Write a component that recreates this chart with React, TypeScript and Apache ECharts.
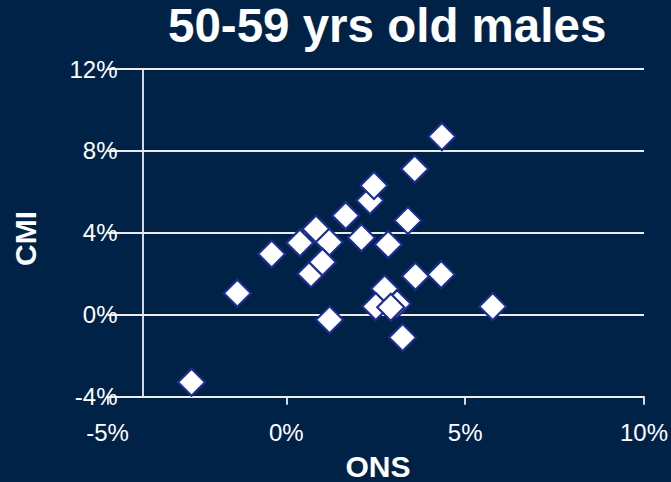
import React, { useEffect, useRef } from "react";
import * as echarts from "echarts";

const TITLE = "50-59 yrs old males";
const X_NAME = "ONS";
const Y_NAME = "CMI";

// ONS (x, %) and CMI (y, %) values
const onsValues = [4.35, 3.59, 2.34, 2.45, 1.66, 3.40, 0.83, 0.38, 1.20, 2.10, 2.85, -0.41, 0.69, 1.01, 3.61, 4.33, -1.37, 2.75, 2.50, 3.10, 2.92, 1.21, 3.25, 5.77, -2.65];
const cmiValues = [8.70, 7.12, 5.58, 6.31, 4.84, 4.60, 4.19, 3.51, 3.54, 3.76, 3.43, 2.97, 2.00, 2.57, 1.88, 1.97, 1.05, 1.27, 0.40, 0.54, 0.37, -0.24, -1.11, 0.40, -3.29];

const xTicks = [-5, 0, 5, 10];
const yTicks = [-4, 0, 4, 8, 12];

export default function App() {
  const ref = useRef<HTMLDivElement>(null);

  useEffect(() => {
    if (!ref.current) return;
    const chart = echarts.init(ref.current, undefined, { renderer: "svg" });
    const points = onsValues.map((x, i) => [x, cmiValues[i]]);
    const lineColor = "#ececec";
    const font = "Liberation Sans, Arial, sans-serif";
    chart.setOption({
      animation: false,
      backgroundColor: "#012247",
      grid: { left: 107.5, right: 24.7, top: 69, bottom: 85.3, containLabel: false },
      graphic: [
        {
          type: "text",
          x: 168,
          y: 1,
          style: { text: TITLE, fill: "#ffffff", font: `bold 47.5px ${font}`, verticalAlign: "top" },
        },
        {
          type: "text",
          x: 25,
          y: 238.5,
          rotation: Math.PI / 2,
          style: { text: Y_NAME, fill: "#ffffff", font: `bold 30px ${font}`, align: "center", verticalAlign: "middle" },
        },
        {
          type: "text",
          x: 378,
          y: 466,
          style: { text: X_NAME, fill: "#ffffff", font: `bold 30px ${font}`, align: "center", verticalAlign: "middle" },
        },
      ],
      xAxis: {
        type: "value",
        min: xTicks[0],
        max: xTicks[xTicks.length - 1],
        interval: 5,
        axisLine: { show: true, onZero: false, lineStyle: { color: lineColor, width: 1.8 } },
        axisTick: { show: true, length: 8, lineStyle: { color: lineColor, width: 1.8 } },
        axisLabel: { color: "#ffffff", fontSize: 24, fontFamily: font, margin: 24, formatter: "{value}%" },
        splitLine: { show: false },
      },
      yAxis: {
        type: "value",
        min: yTicks[0],
        max: yTicks[yTicks.length - 1],
        interval: 4,
        offset: -35,
        axisLine: { show: true, onZero: false, lineStyle: { color: lineColor, width: 1.8 } },
        axisTick: { show: false },
        axisLabel: { color: "#ffffff", fontSize: 24, fontFamily: font, margin: 25, formatter: "{value}%" },
        splitLine: { show: true, lineStyle: { color: lineColor, width: 1.8 } },
      },
      series: [
        {
          type: "scatter",
          data: points,
          symbol: "diamond",
          symbolSize: 27,
          itemStyle: { color: "#ffffff", borderColor: "#1d2e93", borderWidth: 2.2, opacity: 1 },
        },
      ],
    });
    return () => chart.dispose();
  }, []);

  return (
    <div
      ref={ref}
      style={{ position: "absolute", left: 0, top: 0, width: 671, height: 482 }}
    />
  );
}
